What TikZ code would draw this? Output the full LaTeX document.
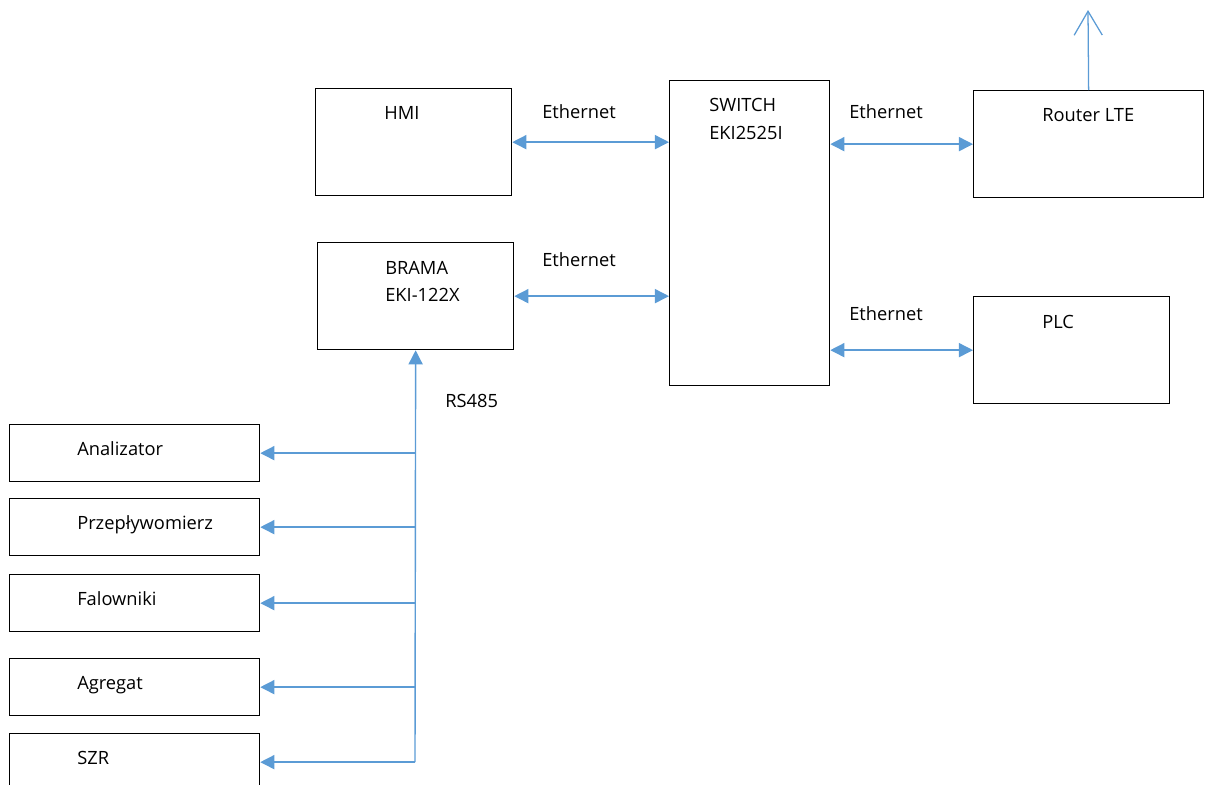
\documentclass[tikz,border=0pt]{standalone}
\usepackage{fontspec}
\setmainfont{Open Sans}
\usetikzlibrary{arrows.meta, positioning, calc}
\definecolor{linkblue}{RGB}{91, 155, 213}

\tikzset{
    box/.style 2 args={draw, line width=0.9pt, anchor=north west, inner sep=0pt,
        minimum width=#1*0.025cm, minimum height=#2*0.025cm},
    txt/.style={anchor=base west, inner sep=0pt, font=\fontsize{13}{15}\selectfont},
    link/.style={linkblue, line width=1pt, >={Triangle[length=10pt, width=10pt]}},
    antenna/.style={linkblue, line width=0.9pt, -{Straight Barb[length=17pt, width=20pt]}}
}

\begin{document}
\begin{tikzpicture}[x=0.025cm, y=-0.025cm]
    \useasboundingbox (0, 0) rectangle (1211, 784);

    % urzadzenia sieciowe
    \node[box={196}{107}] (hmi) at (315, 88) {};
    \node[txt] (hmi-t) at (384, 119) {HMI};
    \node[box={196}{107}] (brama) at (317, 242) {};
    \node[txt] (brama-t1) at (385, 274) {BRAMA};
    \node[txt] (brama-t2) at (385, 301) {EKI-122X};
    \node[box={160}{305}] (switch) at (669, 80) {};
    \node[txt] (switch-t1) at (709, 111) {SWITCH};
    \node[txt] (switch-t2) at (709, 139) {EKI2525I};
    \node[box={230}{107}] (router) at (973, 90) {};
    \node[txt] (router-t) at (1042, 121) {Router LTE};
    \node[box={196}{107}] (plc) at (973, 296) {};
    \node[txt] (plc-t) at (1042, 328) {PLC};

    % Ethernet
    \draw[link, <->] (hmi.east) -- (hmi.east -| switch.west);
    \draw[link, <->] (brama.east) -- (brama.east -| switch.west);
    \draw[link, <->] (router.west -| switch.east) -- (router.west);
    \draw[link, <->] (plc.west -| switch.east) -- (plc.west);
    \node[txt] (eth1) at (542, 118) {Ethernet};
    \node[txt] (eth2) at (542, 266) {Ethernet};
    \node[txt] (eth3) at (849, 118) {Ethernet};
    \node[txt] (eth4) at (849, 320) {Ethernet};

    % antena
    \coordinate (ant) at (1088, 10);
    \draw[antenna] (router.north) -- (ant);

    % magistrala RS485
    \coordinate (busend) at (415, 762);
    \draw[link, ->] (busend) -- (brama.south);
    \node[txt] (rs) at (445, 407) {RS485};
    \foreach \n/\y/\t in {ana/424/Analizator, prz/498/Przepływomierz, fal/574/Falowniki,
                          agr/658/Agregat, szr/733/SZR} {
        \node[box={250}{57}] (\n) at (9, \y) {};
        \node[txt] (\n-t) at (77, \y+31) {\t};
        \draw[link, ->] (\n.east -| busend) -- (\n.east);
    }
\end{tikzpicture}
\end{document}
